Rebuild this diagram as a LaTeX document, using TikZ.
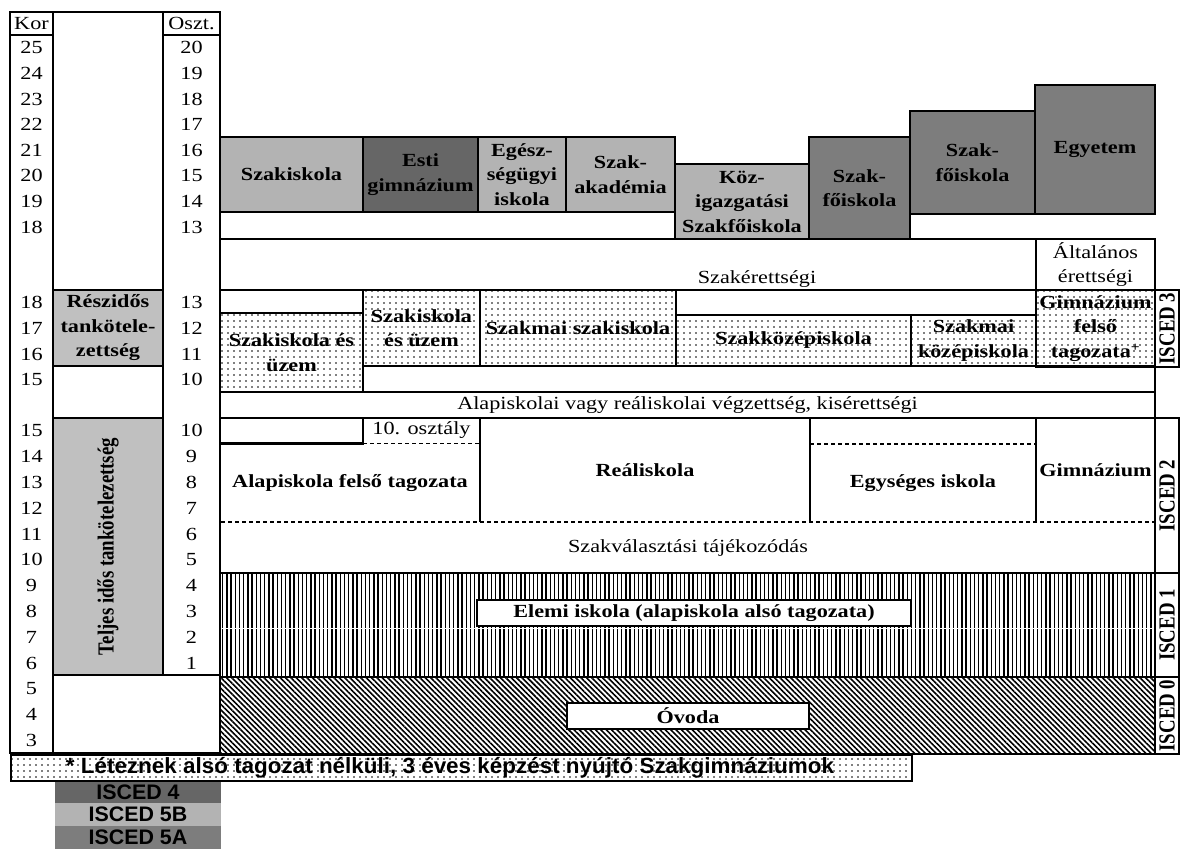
\documentclass[tikz,border=0pt]{standalone}
\usepackage{fontspec}
\setmainfont{Liberation Serif}[FakeStretch=1.2]
\newfontfamily\rotfont{Liberation Serif}[FakeStretch=0.82]
\newfontfamily\notefont{Liberation Sans}[FakeStretch=1.02]
\usetikzlibrary{patterns.meta}
\definecolor{cfour}{HTML}{666666}
\definecolor{cfivea}{HTML}{7D7D7D}
\definecolor{cfiveb}{HTML}{B3B3B3}
\definecolor{cgray}{HTML}{C0C0C0}
\newcommand\txtsize{\fontsize{18.5}{24.5}\selectfont}
\newcommand\mkbox[7]{%
  \pgfmathsetmacro\mkbw{#5-#3}%
  \pgfmathsetmacro\mkbh{#6-#4}%
  \node[#2, minimum width=\mkbw pt, minimum height=\mkbh pt] (#1) at ({(#3+#5)/2},{(#4+#6)/2}) {#7};%
}
\tikzset{
  frame/.style={draw=black, line width=2.8pt},
  base/.style={inner sep=0pt, outer sep=0pt, align=center, font=\txtsize},
  bx/.style={base, frame, font=\txtsize\bfseries},
  plain/.style={base, frame, font=\txtsize},
  num/.style={base, font=\txtsize},
  boldtext/.style={base, font=\txtsize\bfseries},
  rot/.style={base, rotate=90, font=\rotfont\bfseries\fontsize{23}{25}\selectfont},
  dotfill/.style={pattern={Dots[radius=0.95pt, distance=6pt]}},
  vfill/.style={pattern={Lines[angle=90, distance=4.2pt, line width=1.4pt]}},
  dfill/.style={pattern={Lines[angle=-45, distance=3.8pt, line width=1.6pt]}},
  dashline/.style={draw=black, line width=1.5pt, dash pattern=on 4pt off 3pt},
  notetext/.style={base, font=\notefont\bfseries\fontsize{22}{22}\selectfont},
  legend/.style={base, font=\notefont\bfseries\fontsize{21}{21}\selectfont},
}
\begin{document}
\begin{tikzpicture}[x=1pt,y=-1pt]
\useasboundingbox (0,0) rectangle (1180,849);
\fill[white] (0,0) rectangle (1180,849);

% ---------- left columns ----------
\mkbox{korcol}{bx}{10}{12}{53}{753}{}
\mkbox{korhead}{plain}{10}{12}{53}{35}{Kor}
\mkbox{osztcol}{bx}{163}{12}{220}{675}{}
\mkbox{oszthead}{plain}{163}{12}{220}{35}{Oszt.}
\mkbox{midA}{bx}{53}{12}{163}{290}{}
\mkbox{reszido}{bx,fill=cgray}{53}{290}{163}{366}{Részidős\\tankötele-\\zettség}
\mkbox{midB}{bx}{53}{366}{163}{418}{}
\mkbox{teljes}{bx,fill=cgray}{53}{418}{163}{675}{}
\node[rot] (teljestext) at (teljes) {Teljes idős tankötelezettség};
\mkbox{preschool}{bx}{53}{675}{220}{753}{}

\foreach \n [count=\i from 0] in {25,24,...,18}
  \node[num] (ka\i) at (31.5,{35+25.6*(\i+0.5)}) {\n};
\foreach \n [count=\i from 0] in {20,19,...,13}
  \node[num] (oa\i) at (191.5,{35+25.6*(\i+0.5)}) {\n};
\foreach \n [count=\i from 0] in {18,17,16,15}
  \node[num] (kb\i) at (31.5,{290+25.6*(\i+0.5)}) {\n};
\foreach \n [count=\i from 0] in {13,12,11,10}
  \node[num] (ob\i) at (191.5,{290+25.6*(\i+0.5)}) {\n};
\foreach \n [count=\i from 0] in {15,14,...,3}
  \node[num] (kc\i) at (31.5,{418+25.8*(\i+0.5)}) {\n};
\foreach \n [count=\i from 0] in {10,9,...,1}
  \node[num] (oc\i) at (191.5,{418+25.8*(\i+0.5)}) {\n};

% ---------- higher education ----------
\mkbox{szakiskola}{bx,fill=cfiveb}{220}{137}{363}{212}{Szakiskola}
\mkbox{esti}{bx,fill=cfour}{363}{137}{478}{212}{Esti\\gimnázium}
\mkbox{egesz}{bx,fill=cfiveb}{478}{137}{566}{212}{Egész-\\ségügyi\\iskola}
\mkbox{akad}{bx,fill=cfiveb}{566}{137}{675}{212}{Szak-\\akadémia}
\mkbox{stripA}{bx}{220}{212}{675}{239}{}
\mkbox{kozig}{bx,fill=cfiveb}{675}{164}{809}{239}{Köz-\\igazgatási\\Szakfőiskola}
\mkbox{szfA}{bx,fill=cfivea}{809}{137}{910}{239}{Szak-\\főiskola}
\mkbox{szfB}{bx,fill=cfivea}{910}{111}{1035}{214}{Szak-\\főiskola}
\mkbox{egyetem}{bx,fill=cfivea}{1035}{85}{1155}{214}{Egyetem}

% ---------- maturity ----------
\mkbox{szakerett}{bx}{220}{239}{1036}{290}{}
\node[num] (szakeretttext) at (757,279) {Szakérettségi};
\mkbox{altalanos}{plain}{1036}{239}{1155}{290}{Általános\\érettségi}

% ---------- ISCED 3 ----------
\mkbox{emptyA}{bx}{220}{290}{363}{313}{}
\mkbox{szuA}{bx,dotfill}{220}{313}{363}{392}{Szakiskola és\\üzem}
\mkbox{szuB}{bx,dotfill}{363}{290}{480}{366}{Szakiskola\\és üzem}
\mkbox{szsz}{bx,dotfill}{480}{290}{676}{366}{Szakmai szakiskola}
\mkbox{emptyB}{bx}{676}{290}{1036}{315}{}
\mkbox{szkp}{bx,dotfill}{676}{315}{911}{366}{Szakközépiskola}
\mkbox{szmk}{bx,dotfill}{911}{315}{1036}{366}{Szakmai\\középiskola}
\mkbox{gimfelso}{bx,dotfill}{1036}{290}{1155}{367}{Gimnázium\\felső\\tagozata\textsuperscript{+}}
\mkbox{emptyC}{bx}{363}{366}{1155}{392}{}
\mkbox{alapveg}{plain}{220}{392}{1155}{418}{Alapiskolai vagy reáliskolai végzettség, kisérettségi}

% ---------- ISCED 2 ----------
\mkbox{iscedtwoblock}{bx}{220}{418}{1155}{573}{}
\mkbox{emptyD}{bx}{220}{418}{363}{443.6}{}
\draw[frame] (480,418) -- (480,522);
\draw[frame] (810,418) -- (810,522);
\draw[frame] (1036,418) -- (1036,522);
\draw[dashline] (363,443.6) -- (480,443.6);
\draw[dashline] (810,444) -- (1036,444);
\draw[dashline] (221.4,522) -- (1153.6,522);
\node[num] (tenth) at (421.5,430.5) {10. osztály};
\node[boldtext] (alapfelso) at (350,483) {Alapiskola felső tagozata};
\node[boldtext] (real) at (645,470) {Reáliskola};
\node[boldtext] (egyseges) at (923,483) {Egységes iskola};
\node[boldtext] (gimn) at (1095.5,470) {Gimnázium};
\node[num] (szakval) at (688,548) {Szakválasztási tájékozódás};

% ---------- ISCED 1 / 0 ----------
\mkbox{elemiarea}{bx,vfill}{220}{573}{1155}{677}{}
\mkbox{elemi}{bx,fill=white,line width=1.5pt}{477}{600}{911}{626}{Elemi iskola (alapiskola alsó tagozata)}
\mkbox{ovodaarea}{bx,dfill}{220}{677}{1155}{754}{}
\mkbox{ovoda}{bx,fill=white,line width=1.5pt}{567}{703}{809}{729}{Óvoda}

% ---------- ISCED labels ----------
\mkbox{isthree}{bx}{1155}{290}{1179}{367}{}
\node[rot] (isthreet) at (isthree) {ISCED 3};
\mkbox{istwo}{bx}{1155}{418}{1179}{573}{}
\node[rot] (istwot) at (istwo) {ISCED 2};
\mkbox{isone}{bx}{1155}{573}{1179}{677}{}
\node[rot] (isonet) at (isone) {ISCED 1};
\mkbox{iszero}{bx}{1155}{677}{1179}{754}{}
\node[rot] (iszerot) at (iszero) {ISCED 0};

% ---------- footnote and legend ----------
\mkbox{note}{bx,dotfill,line width=1.6pt}{11}{755}{912}{781}{}
\node[notetext] (notet) at (450,768) {* Léteznek alsó tagozat nélküli, 3 éves képzést nyújtó Szakgimnáziumok};
\mkbox{lfour}{legend,fill=cfour}{55}{782}{221}{803}{ISCED 4}
\mkbox{lfiveb}{legend,fill=cfiveb}{55}{803}{221}{826}{ISCED 5B}
\mkbox{lfivea}{legend,fill=cfivea}{55}{826}{221}{849}{ISCED 5A}
\end{tikzpicture}
\end{document}
